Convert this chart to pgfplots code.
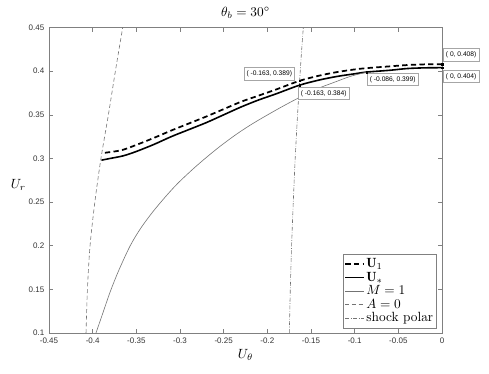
\documentclass[border=0pt]{standalone}
\usepackage{pgfplots}
\pgfplotsset{compat=1.18}
\usepackage{fontspec}
\newfontfamily\arial{Liberation Sans}
\usetikzlibrary{calc}
\definecolor{axgray}{gray}{0.5}
\definecolor{tickgray}{gray}{0.2}
\definecolor{curvegray}{gray}{0.45}

\begin{document}
\begin{tikzpicture}
\begin{axis}[
  name=ax, at={(0,0)}, anchor=south west,
  scale only axis, width=294.75pt, height=229.1pt,
  xmin=-0.45, xmax=0, ymin=0.1, ymax=0.45,
  xtick={-0.45,-0.4,-0.35,-0.3,-0.25,-0.2,-0.15,-0.1,-0.05,0},
  ytick={0.1,0.15,0.2,0.25,0.3,0.35,0.4,0.45},
  tick align=inside, major tick length=3pt,
  axis line style={axgray}, every tick/.style={axgray},
  ticklabel style={font=\arial\fontsize{6}{7}\selectfont, text=tickgray},
  /pgf/number format/.cd, fixed, precision=2, assume math mode=true, /pgfplots/.cd,
  title={$\theta_b = 30^\circ$}, title style={yshift=-3pt},
  xlabel={$U_\theta$}, ylabel={$U_r$},
  xlabel style={yshift=2pt},
  every axis y label/.style={at={(rel axis cs:0,0.484)}, anchor=center, xshift=-23pt},
  clip=false,
  legend cell align=left,
  legend style={at={(rel axis cs:0.985,0.016)}, anchor=south east,
    draw=axgray, fill=white, font=\normalsize, inner sep=1pt,
    row sep=-2.2pt, nodes={inner xsep=1pt}},
  legend image code/.code={\draw[#1] (0cm,0cm) -- (0.5cm,0cm);},
  every axis plot/.append style={smooth, tension=0.5},
]
% U_1
\addplot[black, line width=1.3pt, dash pattern=on 4pt off 2.5pt] coordinates {
(-0.386,0.3065) (-0.375,0.308) (-0.365,0.310) (-0.350,0.3155) (-0.330,0.3235)
(-0.310,0.332) (-0.290,0.340) (-0.270,0.348) (-0.250,0.3565) (-0.230,0.365)
(-0.210,0.372) (-0.190,0.379) (-0.163,0.389) (-0.140,0.395) (-0.120,0.399)
(-0.100,0.402) (-0.086,0.4035) (-0.060,0.4055) (-0.040,0.407) (-0.020,0.4078) (0,0.408)};
\addlegendentry{$\mathbf{U}_1$}
% U_*
\addplot[black, line width=1.2pt] coordinates {
(-0.390,0.298) (-0.380,0.300) (-0.365,0.303) (-0.350,0.308) (-0.330,0.316)
(-0.310,0.325) (-0.290,0.333) (-0.270,0.341) (-0.250,0.350) (-0.230,0.359)
(-0.210,0.367) (-0.190,0.374) (-0.163,0.384) (-0.140,0.390) (-0.120,0.394)
(-0.100,0.397) (-0.086,0.399) (-0.060,0.401) (-0.040,0.403) (-0.020,0.4038) (0,0.404)};
\addlegendentry{$\mathbf{U}_*$}
% M = 1
\addplot[curvegray, line width=0.45pt] coordinates {
(-0.3962,0.100) (-0.390,0.118) (-0.380,0.147) (-0.370,0.172) (-0.357,0.200)
(-0.345,0.220) (-0.331,0.239) (-0.315,0.258) (-0.302,0.272) (-0.285,0.288)
(-0.270,0.301) (-0.254,0.314) (-0.235,0.328) (-0.215,0.341) (-0.1855,0.358)
(-0.163,0.370) (-0.145,0.379) (-0.124,0.387) (-0.105,0.394) (-0.086,0.399)};
\addlegendentry{$M=1$}
% A = 0
\addplot[curvegray, line width=0.45pt, dash pattern=on 3pt off 2pt] coordinates {
(-0.4076,0.10) (-0.4060,0.15) (-0.4030,0.20) (-0.3975,0.25) (-0.3905,0.30)
(-0.3820,0.35) (-0.3740,0.40) (-0.3656,0.45)};
\addlegendentry{$A=0$}
% shock polar
\addplot[curvegray, line width=0.45pt, dash pattern=on 3pt off 1.2pt on 0.5pt off 1.2pt] coordinates {
(-0.1748,0.10) (-0.1737,0.15) (-0.1722,0.20) (-0.1703,0.25) (-0.1681,0.30)
(-0.1654,0.35) (-0.1630,0.389) (-0.1610,0.42) (-0.1588,0.45)};
\addlegendentry{shock polar}
% data tip markers
\addplot[only marks, mark=square*, mark size=0.6pt, black, forget plot] coordinates {
(-0.163,0.389) (-0.163,0.384) (-0.086,0.399) (0,0.408) (0,0.404)};
% data tip labels
\tikzset{tip/.style={draw=black!35, fill=white, font=\arial\fontsize{5}{6}\selectfont,
  inner xsep=2pt, inner ysep=2.2pt, text=black}}
\node[tip, anchor=south east] at (axis cs:-0.1683,0.3898) {( -0.163, 0.389)};
\node[tip, anchor=north west] at (axis cs:-0.1649,0.3818) {( -0.163, 0.384)};
\node[tip, anchor=north west] at (axis cs:-0.0859,0.3979) {( -0.086, 0.399)};
\node[tip, anchor=south west] at (axis cs:0.0012,0.4116) {( 0, 0.408)};
\node[tip, anchor=north west] at (axis cs:0.0012,0.4013) {( 0, 0.404)};
\end{axis}
\pgfresetboundingbox
\path ($(ax.south west)+(-36.75pt,-30.75pt)$) rectangle ($(ax.south west)+(330pt,249.75pt)$);
\end{tikzpicture}
\end{document}
